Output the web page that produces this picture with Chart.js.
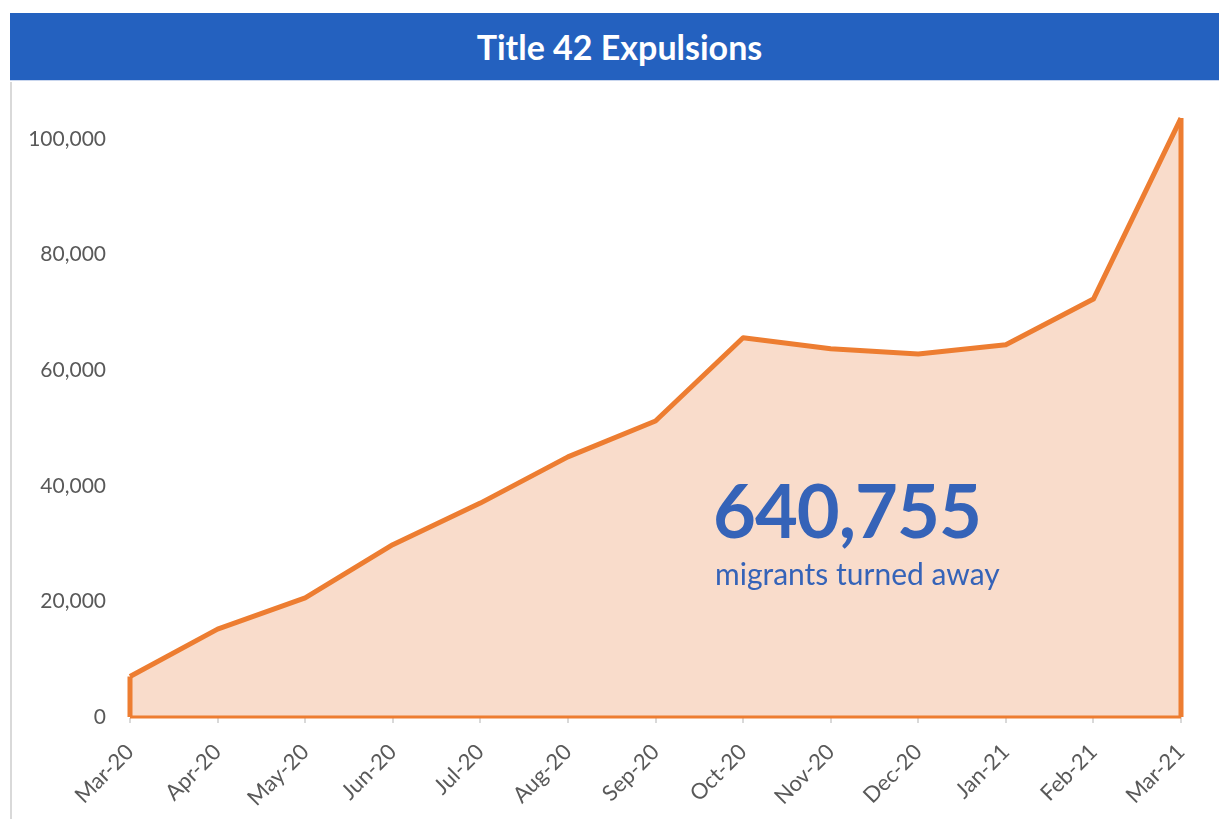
<!DOCTYPE html>
<html>
<head>
<meta charset="utf-8">
<script src="https://cdn.jsdelivr.net/npm/chart.js"></script>
<style>
  html, body { margin: 0; padding: 0; background: #ffffff; }
  body { width: 1219px; height: 819px; position: relative; overflow: hidden; font-family: Lato, "Open Sans", sans-serif; }
  #bar { position: absolute; left: 10px; top: 13px; width: 1209px; height: 68px; background: #2461BF;
         border-bottom: 1px solid #c9d6ee; color: #fff; font-weight: bold; font-size: 34px;
         line-height: 68px; text-align: center; box-sizing: border-box; padding-left: 10px; }
  #leftline { position: absolute; left: 10px; top: 82px; width: 2px; height: 737px; background: #d9d9d9; }
  #wrap { position: absolute; left: 12px; top: 82px; width: 1207px; height: 737px; }
  #big { position: absolute; left: 713px; top: 466px; font-size: 74px; font-weight: bold; color: #3563B8;
         line-height: 1.2; white-space: nowrap; letter-spacing: -1px; }
  #sub { position: absolute; left: 715px; top: 555px; font-size: 30px; color: #3563B8; line-height: 1.2; white-space: nowrap; }
</style>
</head>
<body>
<div id="bar">Title 42 Expulsions</div>
<div id="leftline"></div>
<div id="wrap"><canvas id="c"></canvas></div>
<div id="big">640,755</div>
<div id="sub">migrants turned away</div>
<script>
const categories = ["Mar-20","Apr-20","May-20","Jun-20","Jul-20","Aug-20","Sep-20","Oct-20","Nov-20","Dec-20","Jan-21","Feb-21","Mar-21"];
const expulsions = [7000, 15200, 20600, 29800, 37000, 45000, 51200, 65600, 63700, 62800, 64400, 72300, 103600];
const yTicks = [0, 20000, 40000, 60000, 80000, 100000];

const ORANGE = '#ED7D31';
const FILL = '#F9DCCB';

const outlinePlugin = {
  id: 'outline',
  afterDatasetsDraw(chart) {
    const meta = chart.getDatasetMeta(0);
    const pts = meta.data;
    if (!pts.length) return;
    const y0 = chart.scales.y.getPixelForValue(0);
    const ctx = chart.ctx;
    ctx.save();
    ctx.strokeStyle = ORANGE;
    ctx.lineCap = 'butt';
    ctx.lineWidth = 5;
    ctx.beginPath();
    ctx.moveTo(pts[0].x, pts[0].y);
    ctx.lineTo(pts[0].x, y0);
    ctx.moveTo(pts[pts.length-1].x, pts[pts.length-1].y);
    ctx.lineTo(pts[pts.length-1].x, y0);
    ctx.stroke();
    ctx.lineWidth = 3;
    ctx.beginPath();
    ctx.moveTo(pts[0].x, y0);
    ctx.lineTo(pts[pts.length-1].x, y0);
    ctx.stroke();
    ctx.restore();
  }
};

new Chart(document.getElementById('c'), {
  type: 'line',
  data: {
    labels: categories,
    datasets: [{
      data: expulsions,
      borderColor: ORANGE,
      backgroundColor: FILL,
      borderWidth: 5,
      fill: 'origin',
      pointRadius: 0,
      tension: 0,
      borderJoinStyle: 'round'
    }]
  },
  options: {
    responsive: true,
    maintainAspectRatio: false,
    animation: false,
    layout: { padding: { left: 0, right: 38, top: 28, bottom: 0 } },
    plugins: { legend: { display: false }, tooltip: { enabled: false } },
    scales: {
      x: {
        offset: false,
        grid: { display: true, drawOnChartArea: false, drawTicks: true, tickLength: 6, color: '#d9d9d9', lineWidth: 2 },
        border: { display: true, color: '#d9d9d9', width: 1 },
        ticks: { color: '#595959', font: { family: 'Lato', size: 22 }, minRotation: 45, maxRotation: 45, padding: 16, autoSkip: false },
        afterFit(scale) { scale.height = 102; }
      },
      y: {
        min: 0,
        max: 105000,
        grid: { display: false, drawTicks: false },
        border: { display: false },
        ticks: { color: '#595959', font: { family: 'Lato', size: 21 }, padding: 24,
                 callback: v => v.toLocaleString('en-US') },
        afterBuildTicks(scale) { scale.ticks = yTicks.map(v => ({ value: v })); },
        afterFit(scale) { scale.width = 118; scale.paddingTop = 0; scale.paddingBottom = 0; }
      }
    }
  },
  plugins: [outlinePlugin]
});
</script>
</body>
</html>
